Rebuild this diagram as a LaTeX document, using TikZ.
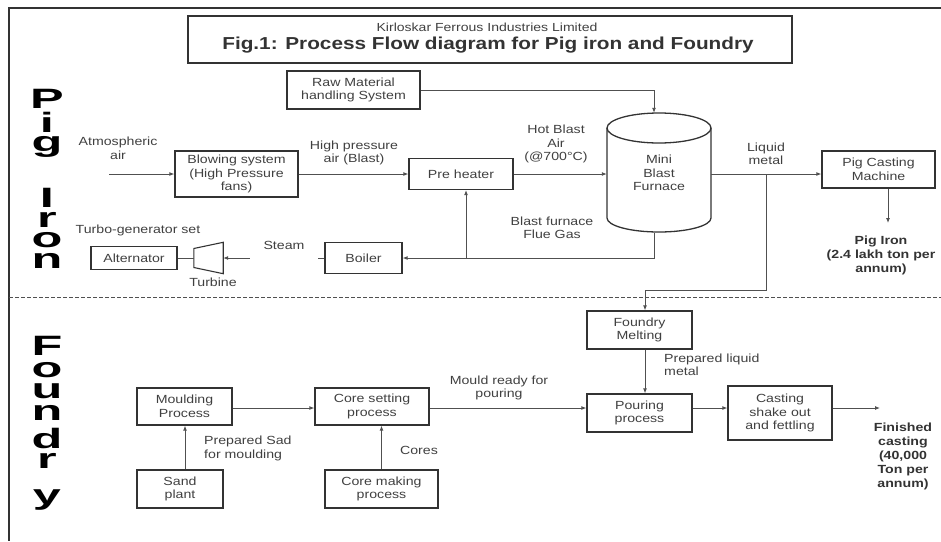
\documentclass[tikz,border=0pt]{standalone}
\usepackage{fontspec}
\setmainfont{Liberation Sans}[FakeStretch=1.2]
\newfontfamily\sidefont{Liberation Sans}[FakeStretch=1.8]
\usetikzlibrary{arrows.meta}
\definecolor{ink}{HTML}{333333}
\definecolor{txt}{HTML}{404040}
\definecolor{wire}{HTML}{505050}

\tikzset{
  bodyfont/.style={font=\fontsize{11.8}{13.5}\selectfont},
  procbox/.style={draw=ink, line width=1.3pt, align=center, inner sep=1pt, text=txt, bodyfont},
  lbl/.style={align=center, inner sep=0pt, text=txt, bodyfont},
  outlbl/.style={align=center, inner sep=0pt, text=ink, font=\bfseries\fontsize{11.8}{14}\selectfont},
  flow/.style={draw=wire, line width=0.9pt, -{Latex[length=5pt,width=4pt]}},
  link/.style={draw=wire, line width=0.9pt},
  shapeln/.style={draw=ink, line width=1.3pt},
  sidechar/.style={anchor=base, inner sep=0pt, text=black, font=\sidefont\bfseries\fontsize{28}{28}\selectfont},
}

\begin{document}
\begin{tikzpicture}[x=1pt, y=-1pt]
\useasboundingbox (0,0) rectangle (941,541);

% outer frame and section divider
\draw[ink, line width=1.4pt] (941,8) -- (9,8) -- (9,541);
\draw[wire, line width=0.9pt, dash pattern=on 4pt off 2pt] (9,297) -- (941,297);

% title block
\node[draw=ink, line width=1.3pt, minimum width=604pt, minimum height=47pt, inner sep=0pt] (titlebox) at (490,39.5) {};
\node[inner sep=0pt, text=txt, font=\fontsize{11.7}{12}\selectfont] (company) at (487,27) {Kirloskar Ferrous Industries Limited};
\node[inner sep=0pt, text=ink, font=\bfseries\fontsize{17.3}{18}\selectfont] (figtitle) at (488,45.5) {Fig.1: Process Flow diagram for Pig iron and Foundry};

% section captions, one stretched letter at a time
\node[sidechar] (p1) at (47,108) {P};
\node[sidechar] (p2) at (47,132) {i};
\node[sidechar] (p3) at (47,151) {g};
\node[sidechar] (p4) at (47,207) {I};
\node[sidechar] (p5) at (47,227) {r};
\node[sidechar] (p6) at (47,247) {o};
\node[sidechar] (p7) at (47,268) {n};
\node[sidechar] (f1) at (47,355) {F};
\node[sidechar] (f2) at (47,377) {o};
\node[sidechar] (f3) at (47,398) {u};
\node[sidechar] (f4) at (47,420) {n};
\node[sidechar] (f5) at (47,448) {d};
\node[sidechar] (f6) at (47,468) {r};
\node[sidechar] (f7) at (47,504) {y};

% ---------- pig iron section ----------
\node[procbox, minimum width=133pt, minimum height=38pt] (raw) at (353.5,90) {Raw Material\\handling System};
\node[procbox, minimum width=123pt, minimum height=46pt] (blow) at (236.5,174) {Blowing system\\(High Pressure\\fans)};
\node[procbox, minimum width=104pt, minimum height=31pt] (pre) at (461,174) {Pre heater};
\node[procbox, minimum width=113pt, minimum height=37pt] (pig) at (878.5,169.5) {Pig Casting\\Machine};
\node[procbox, minimum width=86pt, minimum height=23pt] (alt) at (134,258) {Alternator};
\node[procbox, minimum width=77pt, minimum height=31pt] (boiler) at (363.5,258) {Boiler};

% blast furnace drawn as a cylinder
\node[lbl, minimum width=104pt, minimum height=120pt] (bf) at (659,173) {Mini\\Blast\\Furnace};
\draw[shapeln] (607,128) -- (607,218) arc[start angle=180, end angle=360, x radius=52pt, y radius=14pt] -- (711,128);
\draw[shapeln] (659,128) ellipse [x radius=52pt, y radius=15pt];

% turbine drawn as a trapezoid
\node[minimum width=29pt, minimum height=31pt, inner sep=0pt] (turb) at (208.5,258) {};
\draw[shapeln, line width=1.1pt] ([yshift=9.5pt]turb.west) -- (turb.north east) -- (turb.south east) -- ([yshift=-9.5pt]turb.west) -- cycle;

\coordinate (atm) at (109,174);
\coordinate (fgj) at (466,258);
\coordinate (lmj) at (766,174);
\coordinate (lmk) at (766,290);
\coordinate (pigend) at (888,223);

\draw[flow] (atm) -- (blow.west);
\draw[flow] (blow.east) -- (pre.west);
\draw[flow] (pre.east) -- (pre.east -| bf.west);
\draw[flow] (raw.east) -| ([xshift=-5pt]bf.north);
\draw[flow] ([xshift=-5pt]bf.south) |- (boiler.east);
\draw[flow] (fgj) -- (fgj |- pre.south);
\draw[flow] (bf.east |- pre.east) -- (pig.west |- pre.east);
\draw[flow] ([xshift=9.5pt]pig.south) -- (pigend);
\draw[link] (alt.east) -- (turb.west);
\draw[flow] (boiler.west) -- (turb.east);

% ---------- foundry section ----------
\node[procbox, minimum width=105pt, minimum height=38pt] (fm) at (639.5,330) {Foundry\\Melting};
\node[procbox, minimum width=105pt, minimum height=38pt] (pour) at (639.5,413) {Pouring\\process};
\node[procbox, minimum width=95pt, minimum height=37pt] (mould) at (184.5,406.5) {Moulding\\Process};
\node[procbox, minimum width=114pt, minimum height=37pt] (cset) at (372,406.5) {Core setting\\process};
\node[procbox, minimum width=104pt, minimum height=54pt] (cast) at (780,413) {Casting\\shake out\\and fettling};
\node[procbox, minimum width=86pt, minimum height=38pt] (sand) at (180,489) {Sand\\plant};
\node[procbox, minimum width=113pt, minimum height=38pt] (cm) at (381.5,489) {Core making\\process};

\coordinate (row) at (0,408);
\coordinate (finend) at (880,408);

\draw[flow] (lmj) -- (lmk) -| ([xshift=5.5pt]fm.north);
\draw[flow] ([xshift=5.5pt]fm.south) -- ([xshift=5.5pt]pour.north);
\draw[flow] ([xshift=5pt]sand.north) -- ([xshift=5pt]sand.north |- mould.south);
\draw[flow] (mould.east |- row) -- (cset.west |- row);
\draw[flow] (cm.north) -- (cm.north |- cset.south);
\draw[flow] (cset.east |- row) -- (pour.west |- row);
\draw[flow] (pour.east |- row) -- (cast.west |- row);
\draw[flow] (cast.east |- row) -- (finend);

% ---------- labels ----------
\node[lbl] (atmlbl) at (118,148.5) {Atmospheric\\air};
\node[lbl] (hplbl) at (354,153) {High pressure\\air (Blast)};
\node[lbl] (hotlbl) at (556,144) {Hot Blast\\Air\\(@700°C)};
\node[lbl] (fluelbl) at (552,228) {Blast furnace\\Flue Gas};
\node[lbl] (liqlbl) at (766,154) {Liquid\\metal};
\node[lbl] (tglbl) at (138,230) {Turbo-generator set};
\node[lbl] (turblbl) at (213,282) {Turbine};
\node[lbl, fill=white, minimum width=68pt, minimum height=30pt] (steamlbl) at (284,245) {Steam};
\node[outlbl] (pigout) at (881,255) {Pig Iron\\(2.4 lakh ton per\\annum)};
\node[lbl, align=left, anchor=west] (plmlbl) at (664,365) {Prepared liquid\\metal};
\node[lbl] (mrlbl) at (499,388) {Mould ready for\\pouring};
\node[lbl, align=left, anchor=west] (pslbl) at (204,448.5) {Prepared Sad\\for moulding};
\node[lbl] (coreslbl) at (419,450) {Cores};
\node[outlbl] (finout) at (903,456) {Finished\\casting\\(40,000\\Ton per\\annum)};
\end{tikzpicture}
\end{document}
